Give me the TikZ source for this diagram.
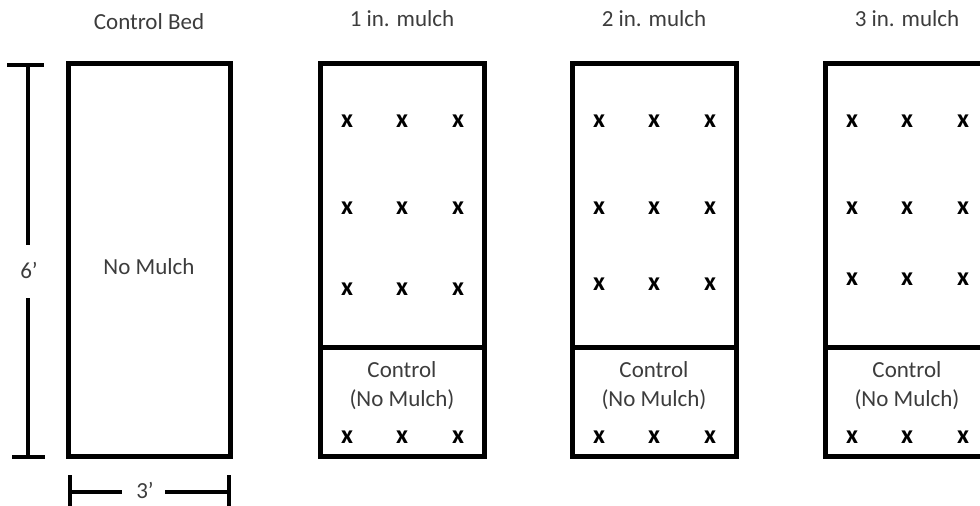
\documentclass[tikz,border=0pt]{standalone}
\usepackage{fontspec}
\setmainfont{Carlito}
\definecolor{txt}{HTML}{3C3C3C}
\begin{document}
\begin{tikzpicture}[x=1pt,y=-1pt,
  bed/.style={draw=black,line width=5pt},
  dim/.style={draw=black,line width=3.5pt},
  lbl/.style={text=txt,font=\fontsize{23}{27}\selectfont,inner sep=0pt,anchor=base},
  xmark/.style={text=black,font=\fontsize{26}{26}\selectfont\bfseries,inner sep=0pt,anchor=base}]
\useasboundingbox (0,0) rectangle (980,506);
\clip (0,0) rectangle (980,506);
% titles
\node[lbl] (t0) at (149,29) {Control Bed};
\node[lbl] (t1) at (402,27) {1 in. mulch};
\node[lbl] (t2) at (654,27) {2 in. mulch};
\node[lbl] (t3) at (907,27) {3 in. mulch};
% control bed
\draw[bed] (68,63) rectangle (230,456);
\node[lbl] (nm) at (149,274) {No Mulch};
% treatment beds
\foreach \i/\x/\ra/\rb/\rc in {1/320/127/214/295, 2/572/127/214/290, 3/825/127/214/285}{
  \draw[bed] (\x,63) rectangle ({\x+164},456);
  \draw[bed] (\x,347) -- ({\x+164},347);
  \node[lbl] (c\i) at ({\x+82},377) {Control};
  \node[lbl] (n\i) at ({\x+82},406) {(No Mulch)};
  \foreach \c/\dx in {1/27,2/82,3/138}{
    \node[xmark] (m\i a\c) at ({\x+\dx},\ra) {x};
    \node[xmark] (m\i b\c) at ({\x+\dx},\rb) {x};
    \node[xmark] (m\i c\c) at ({\x+\dx},\rc) {x};
    \node[xmark] (m\i d\c) at ({\x+\dx},443) {x};
  }
}
% vertical dimension
\node[lbl] (six) at (29,278) {6’};
\coordinate (vt) at (28,65);
\coordinate (vb) at (28,457);
\coordinate (vg1) at (28,245);
\coordinate (vg2) at (28,298);
\draw[dim] (vt) -- (vg1);
\draw[dim] (vg2) -- (vb);
\draw[dim] (7,65) -- (44,65);
\draw[dim] (12,457) -- (45,457);
% horizontal dimension
\node[lbl] (three) at (145,498) {3’};
\coordinate (hl) at (70,492);
\coordinate (hr) at (229,492);
\coordinate (hg1) at (122,492);
\coordinate (hg2) at (165,492);
\draw[dim] (hl) -- (hg1);
\draw[dim] (hg2) -- (hr);
\draw[dim] (70,475) -- (70,510);
\draw[dim] (229,475) -- (229,510);
\end{tikzpicture}
\end{document}
